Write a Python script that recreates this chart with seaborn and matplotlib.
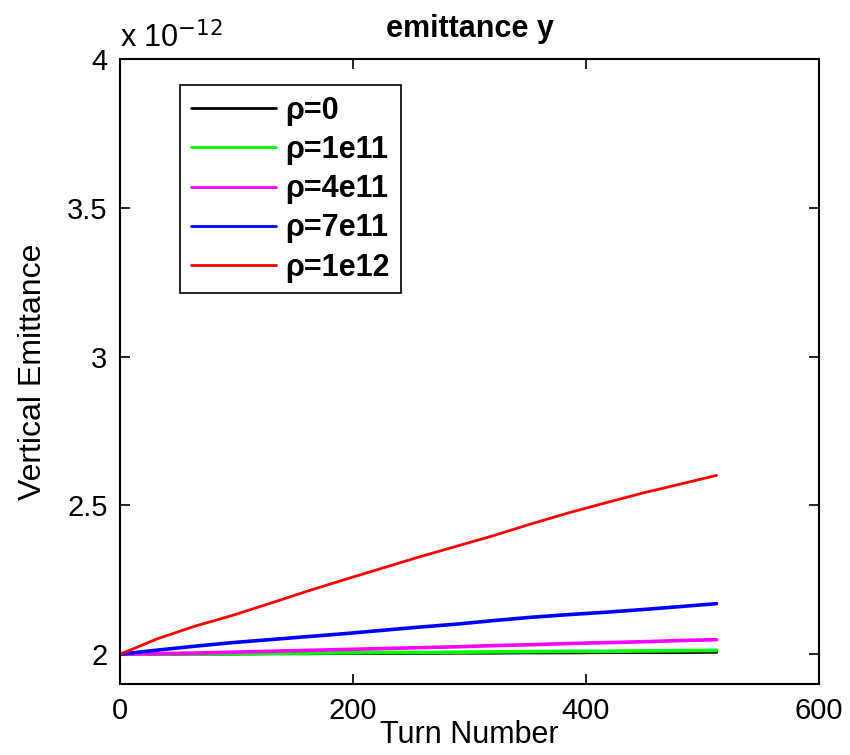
import numpy as np
import pandas as pd
import matplotlib
matplotlib.use("Agg")
import matplotlib.pyplot as plt
from matplotlib.ticker import FuncFormatter, MultipleLocator
import seaborn as sns

# ---- data (values in units of 1e-12) ----
turns = [0, 32, 64, 96, 128, 160, 192, 224, 256, 288, 320, 352, 384, 416, 448, 480, 512]
emit_rho0 = [2.000, 2.000, 2.001, 2.001, 2.002, 2.002, 2.003, 2.003, 2.003, 2.004, 2.004, 2.005, 2.005, 2.006, 2.006, 2.006, 2.007]
emit_rho1e11 = [2.000, 2.001, 2.002, 2.002, 2.003, 2.004, 2.005, 2.006, 2.006, 2.007, 2.008, 2.009, 2.010, 2.010, 2.011, 2.012, 2.013]
emit_rho4e11 = [2.000, 2.002, 2.004, 2.007, 2.010, 2.013, 2.016, 2.019, 2.022, 2.025, 2.029, 2.032, 2.036, 2.039, 2.042, 2.046, 2.049]
emit_rho7e11 = [2.000, 2.014, 2.027, 2.039, 2.049, 2.059, 2.069, 2.080, 2.091, 2.101, 2.113, 2.124, 2.133, 2.141, 2.150, 2.160, 2.170]
emit_rho1e12 = [2.000, 2.052, 2.094, 2.130, 2.170, 2.211, 2.250, 2.288, 2.326, 2.362, 2.398, 2.437, 2.474, 2.508, 2.541, 2.571, 2.601]
scale = 1e-12

labels = ["ρ=0", "ρ=1e11", "ρ=4e11", "ρ=7e11", "ρ=1e12"]
series = [emit_rho0, emit_rho1e11, emit_rho4e11, emit_rho7e11, emit_rho1e12]
colors = ["#000000", "#00ff00", "#ff00ff", "#0000ff", "#ff0000"]
widths = [2.2, 2.6, 2.6, 2.6, 2.0]

df = pd.concat([
    pd.DataFrame({"Turn": turns, "Emittance": np.array(v) * scale, "series": lab})
    for lab, v in zip(labels, series)
], ignore_index=True)

sns.set_style("ticks")
plt.rcParams["font.family"] = ["Liberation Sans", "DejaVu Sans"]
plt.rcParams["text.color"] = "black"
plt.rcParams["axes.labelcolor"] = "black"
plt.rcParams["xtick.color"] = "black"
plt.rcParams["ytick.color"] = "black"

fig = plt.figure(figsize=(8.5, 7.55), dpi=100)
ax = fig.add_axes([0.1412, 0.0940, 0.8224, 0.8278])

for lab, col, lw in zip(labels, colors, widths):
    sns.lineplot(data=df[df["series"] == lab], x="Turn", y="Emittance",
                 color=col, linewidth=lw, label=lab, ax=ax)

ax.set_xlim(0, 600)
ax.set_ylim(1.9e-12, 4e-12)
ax.xaxis.set_major_locator(MultipleLocator(200))
ax.yaxis.set_major_locator(MultipleLocator(0.5e-12))
ax.yaxis.set_major_formatter(FuncFormatter(lambda v, p: f"{v / scale:g}"))

for s in ax.spines.values():
    s.set_visible(True)
    s.set_color("black")
    s.set_linewidth(1.5)
ax.tick_params(direction="in", length=7, width=1.2, top=True, right=True,
               labelsize=21, colors="black", pad=9)

ax.set_xlabel("Turn Number", fontsize=22, labelpad=-3, color="black")
ax.set_ylabel("Vertical Emittance", fontsize=23, labelpad=14, color="black")
ax.set_title("emittance y", fontsize=22, fontweight="bold", pad=16, color="black")
ax.text(0.0, 1.018, r"x 10$^{-12}$", transform=ax.transAxes, fontsize=22,
        ha="left", va="baseline", color="black")

leg = ax.legend(loc="upper left", bbox_to_anchor=(0.086, 0.958), borderaxespad=0,
                fancybox=False, frameon=True, handlelength=2.8, handletextpad=0.3,
                labelspacing=0.3, borderpad=0.35,
                prop={"size": 22, "weight": "bold"})
leg.get_frame().set_edgecolor("black")
leg.get_frame().set_linewidth(1.2)
leg.get_frame().set_alpha(1)
for t in leg.get_texts():
    t.set_color("black")
for line in leg.get_lines():
    line.set_linewidth(2.0)

fig.savefig("out.png", dpi=100)
